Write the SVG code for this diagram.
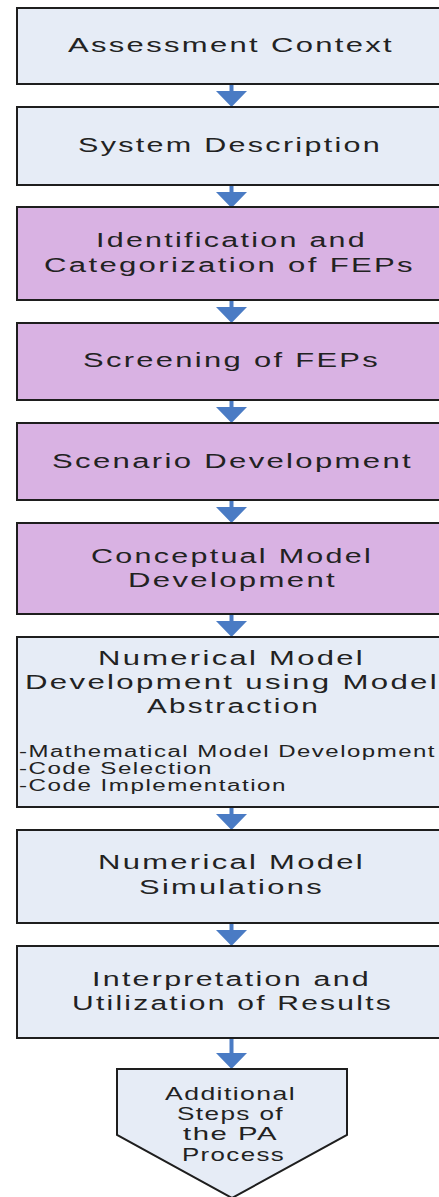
<svg xmlns="http://www.w3.org/2000/svg" width="439" height="1197" viewBox="0 0 439 1197">
<style>
.b{fill:#e6ecf6;stroke:#1e1e1e;stroke-width:2}
.p{fill:#d9b2e3;stroke:#1e1e1e;stroke-width:2}
text{font-family:"Liberation Sans",Arial,sans-serif;fill:#222;font-size:20px;letter-spacing:1.5px;text-anchor:middle}
.s{font-size:16px;letter-spacing:1px;text-anchor:start}
.t{font-size:19px;letter-spacing:1px}
.a{fill:#4a7bc4}
</style>
<defs>
<path id="arr" class="a" d="M-2,0 H2 V7 H15.5 L0,23 L-15.5,7 H-2 Z"/>
</defs>
<g id="connectors">
<use href="#arr" x="231.5" y="84"/>
<use href="#arr" x="231.5" y="185"/>
<use href="#arr" x="231.5" y="300"/>
<use href="#arr" x="231.5" y="400"/>
<use href="#arr" x="231.5" y="500"/>
<use href="#arr" x="231.5" y="614"/>
<use href="#arr" x="231.5" y="807"/>
<use href="#arr" x="231.5" y="923"/>
<path class="a" d="M229.5,1038 H233.5 V1053 H247 L231.5,1069 L216,1053 H229.5 Z"/>
</g>
<g id="n1"><rect class="b" x="17" y="8" width="430" height="76"/>
<text x="231" y="52" textLength="326" lengthAdjust="spacingAndGlyphs">Assessment Context</text></g>
<g id="n2"><rect class="b" x="17" y="107" width="430" height="78"/>
<text x="230" y="152" textLength="304" lengthAdjust="spacingAndGlyphs">System Description</text></g>
<g id="n3"><rect class="p" x="17" y="207" width="430" height="93"/>
<text x="231.5" y="247" textLength="271" lengthAdjust="spacingAndGlyphs">Identification and</text>
<text x="229.5" y="272" textLength="371" lengthAdjust="spacingAndGlyphs">Categorization of FEPs</text></g>
<g id="n4"><rect class="p" x="17" y="323" width="430" height="77"/>
<text x="231.5" y="367" textLength="297" lengthAdjust="spacingAndGlyphs">Screening of FEPs</text></g>
<g id="n5"><rect class="p" x="17" y="423" width="430" height="77"/>
<text x="232.5" y="468" textLength="361" lengthAdjust="spacingAndGlyphs">Scenario Development</text></g>
<g id="n6"><rect class="p" x="17" y="523" width="430" height="91"/>
<text x="232" y="563" textLength="282" lengthAdjust="spacingAndGlyphs">Conceptual Model</text>
<text x="232.5" y="587" textLength="209" lengthAdjust="spacingAndGlyphs">Development</text></g>
<g id="n7"><rect class="b" x="17" y="637" width="430" height="170"/>
<text x="231.5" y="665" textLength="267" lengthAdjust="spacingAndGlyphs">Numerical Model</text>
<text x="232" y="689" textLength="414" lengthAdjust="spacingAndGlyphs">Development using Model</text>
<text x="233.5" y="713" textLength="173" lengthAdjust="spacingAndGlyphs">Abstraction</text>
<text class="s" x="19" y="757" textLength="417" lengthAdjust="spacingAndGlyphs">-Mathematical Model Development</text>
<text class="s" x="19" y="774" textLength="194" lengthAdjust="spacingAndGlyphs">-Code Selection</text>
<text class="s" x="19" y="791" textLength="268" lengthAdjust="spacingAndGlyphs">-Code Implementation</text></g>
<g id="n8"><rect class="b" x="17" y="830" width="430" height="93"/>
<text x="231.5" y="869" textLength="267" lengthAdjust="spacingAndGlyphs">Numerical Model</text>
<text x="231.5" y="894" textLength="185" lengthAdjust="spacingAndGlyphs">Simulations</text></g>
<g id="n9"><rect class="b" x="17" y="946" width="430" height="92"/>
<text x="231.5" y="986" textLength="279" lengthAdjust="spacingAndGlyphs">Interpretation and</text>
<text x="232.5" y="1010" textLength="321" lengthAdjust="spacingAndGlyphs">Utilization of Results</text></g>
<g id="n10"><path class="b" d="M117,1069 H347 V1135 L232,1198 L117,1135 Z"/>
<text class="t" x="230.5" y="1100" textLength="131" lengthAdjust="spacingAndGlyphs">Additional</text>
<text class="t" x="230.5" y="1120" textLength="107" lengthAdjust="spacingAndGlyphs">Steps of</text>
<text class="t" x="230.5" y="1140" textLength="95" lengthAdjust="spacingAndGlyphs">the PA</text>
<text class="t" x="233.5" y="1161" textLength="103" lengthAdjust="spacingAndGlyphs">Process</text></g>
</svg>
